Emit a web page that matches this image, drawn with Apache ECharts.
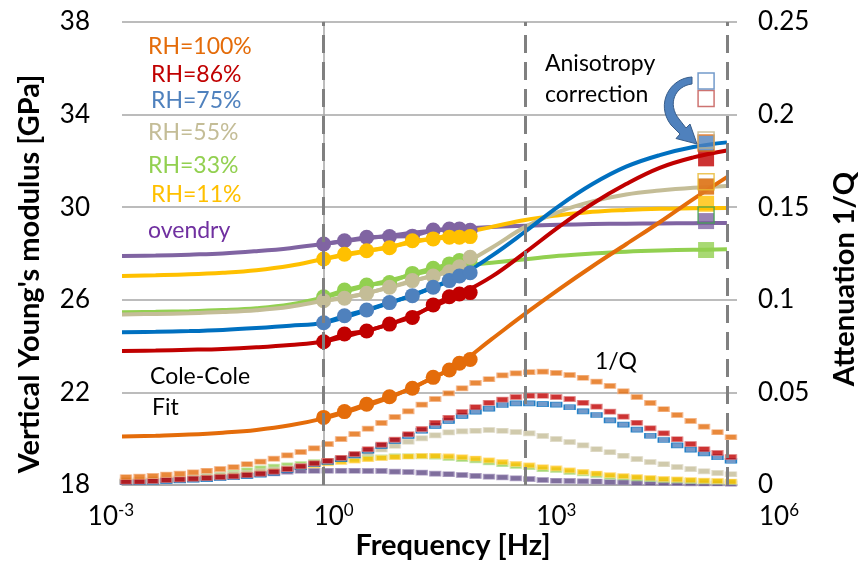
<!DOCTYPE html>
<html>
<head>
<meta charset="utf-8">
<script src="https://cdn.jsdelivr.net/npm/echarts@6/dist/echarts.min.js"></script>
<style>
  html, body { margin: 0; padding: 0; background: #fff; }
  #chart { width: 860px; height: 565px; }
</style>
</head>
<body>
<div id="chart"></div>
<script>
// ---- data (frequencies given as log10 of Hz) ----
const levelNames = ['RH=100%', 'RH=86%', 'RH=75%', 'RH=55%', 'RH=33%', 'RH=11%', 'ovendry'];

// Cole-Cole fit curves, Young's modulus in GPa
const fitLogF = [-3, -2.5, -2, -1.5, -1, -0.5, 0, 0.5, 1, 1.5, 2, 2.5, 3, 3.5, 4, 4.5, 5, 5.5, 6];
const fitRH100 = [20.09, 20.13, 20.18, 20.26, 20.38, 20.58, 20.88, 21.3, 21.8, 22.45, 23.2, 24.3, 25.4, 26.45, 27.45, 28.4, 29.35, 30.35, 31.3];
const fitRH86  = [23.79, 23.81, 23.84, 23.88, 23.95, 24.05, 24.2, 24.55, 24.97, 25.55, 26.2, 27.0, 28.05, 29.15, 30.15, 31.0, 31.7, 32.15, 32.45];
const fitRH75  = [24.6, 24.62, 24.65, 24.7, 24.78, 24.88, 25.01, 25.42, 25.88, 26.4, 27.0, 27.9, 28.95, 30.05, 31.0, 31.75, 32.25, 32.6, 32.8];
const fitRH55  = [25.37, 25.39, 25.42, 25.47, 25.55, 25.7, 25.96, 26.2, 26.55, 26.95, 27.45, 28.25, 29.15, 29.8, 30.25, 30.55, 30.72, 30.84, 30.92];
const fitRH33  = [25.46, 25.48, 25.51, 25.56, 25.64, 25.8, 26.1, 26.5, 26.85, 27.2, 27.45, 27.6, 27.75, 27.9, 28.0, 28.08, 28.13, 28.16, 28.18];
const fitRH11  = [27.03, 27.06, 27.1, 27.17, 27.28, 27.47, 27.76, 28.02, 28.3, 28.58, 28.85, 29.15, 29.45, 29.65, 29.8, 29.88, 29.93, 29.95, 29.97];
const fitDry   = [27.89, 27.91, 27.95, 28.0, 28.1, 28.23, 28.41, 28.6, 28.78, 28.95, 29.07, 29.15, 29.2, 29.24, 29.27, 29.29, 29.3, 29.31, 29.32];

// measured moduli
const measLogF = [0, 0.31, 0.64, 0.98, 1.32, 1.63, 1.87, 2.02, 2.18];
const measRH100 = [20.92, 21.17, 21.49, 21.81, 22.18, 22.65, 22.97, 23.26, 23.42];
const measRH86  = [24.19, 24.52, 24.65, 24.95, 25.24, 25.78, 26.13, 26.25, 26.31];
const measRH75  = [25.01, 25.31, 25.56, 25.88, 26.18, 26.54, 26.83, 27.03, 27.17];
const measRH55  = [25.96, 26.07, 26.28, 26.54, 26.83, 27.03, 27.21, 27.43, 27.84];
const measRH33  = [26.13, 26.42, 26.64, 26.75, 27.14, 27.36, 27.55, 27.7, 27.75];
const measRH11  = [27.76, 27.97, 28.12, 28.25, 28.55, 28.63, 28.7, 28.7, 28.73];
const measDry   = [28.41, 28.55, 28.7, 28.73, 28.75, 29.01, 29.06, 29.06, 29.0];

// attenuation 1/Q from the fits
const qLogF = [-2.94, -2.74, -2.54, -2.34, -2.14, -1.94, -1.74, -1.54, -1.34, -1.14, -0.94, -0.74, -0.54, -0.34, -0.14,
               0.06, 0.26, 0.46, 0.66, 0.86, 1.06, 1.26, 1.46, 1.66, 1.86, 2.06, 2.26, 2.46, 2.66, 2.86,
               3.06, 3.26, 3.46, 3.66, 3.86, 4.06, 4.26, 4.46, 4.66, 4.86, 5.06, 5.26, 5.46, 5.66, 5.86, 6.06];
const qRH100 = [0.0042, 0.0045, 0.0049, 0.0056, 0.0061, 0.0068, 0.0077, 0.0086, 0.0096, 0.0112, 0.0126, 0.0142, 0.016, 0.0178, 0.0198,
                0.0221, 0.0248, 0.0275, 0.0304, 0.0335, 0.0367, 0.0398, 0.0434, 0.0464, 0.0495, 0.0522, 0.0551, 0.0571, 0.0592, 0.0603,
                0.0609, 0.0612, 0.0605, 0.0594, 0.0579, 0.0558, 0.0535, 0.0506, 0.0475, 0.0443, 0.0409, 0.0378, 0.0346, 0.0315, 0.0285, 0.0258];
const qRH86  = [0.0018, 0.0019, 0.0022, 0.0027, 0.003, 0.0034, 0.0038, 0.0043, 0.0047, 0.0054, 0.0061, 0.0072, 0.0086, 0.0101, 0.0117,
                0.0131, 0.0147, 0.0167, 0.0193, 0.0218, 0.0245, 0.0274, 0.0302, 0.0336, 0.0363, 0.0394, 0.042, 0.0444, 0.0461, 0.0475,
                0.0482, 0.0482, 0.0475, 0.0464, 0.0444, 0.0423, 0.0396, 0.0369, 0.0336, 0.0306, 0.0279, 0.0247, 0.0221, 0.0193, 0.0173, 0.0151];
const qRH75  = [0.0015, 0.0016, 0.0018, 0.0022, 0.0025, 0.0029, 0.0032, 0.0038, 0.0042, 0.0049, 0.0056, 0.0066, 0.0081, 0.0096, 0.0112,
                0.0124, 0.014, 0.016, 0.0185, 0.0211, 0.0238, 0.0265, 0.0293, 0.0319, 0.0346, 0.0373, 0.0396, 0.0412, 0.0432, 0.0441,
                0.0441, 0.0437, 0.0434, 0.042, 0.0398, 0.0378, 0.0349, 0.0326, 0.0299, 0.0266, 0.0243, 0.0214, 0.0191, 0.0171, 0.015, 0.0131];
const qRH55  = [0.0026, 0.0028, 0.0031, 0.0034, 0.0038, 0.0042, 0.0047, 0.0053, 0.0059, 0.0066, 0.0074, 0.0083, 0.0093, 0.0104, 0.0116,
                0.0129, 0.0143, 0.0158, 0.0174, 0.0192, 0.0212, 0.0234, 0.0252, 0.0268, 0.0284, 0.029, 0.0293, 0.0297, 0.0293, 0.0286,
                0.0279, 0.0265, 0.0248, 0.0232, 0.0214, 0.0193, 0.0177, 0.0158, 0.014, 0.0124, 0.0112, 0.0097, 0.0086, 0.0074, 0.0065, 0.0058];
const qRH33  = [0.0021, 0.0023, 0.0026, 0.003, 0.0035, 0.004, 0.0047, 0.0056, 0.0066, 0.0079, 0.009, 0.0099, 0.0106, 0.0113, 0.0124,
                0.013, 0.0135, 0.014, 0.0147, 0.0149, 0.0155, 0.0155, 0.0155, 0.0153, 0.0146, 0.014, 0.0133, 0.0122, 0.0112, 0.0103,
                0.0096, 0.0085, 0.0081, 0.007, 0.0063, 0.0054, 0.0045, 0.0041, 0.0036, 0.0032, 0.0027, 0.0025, 0.0022, 0.002, 0.0018, 0.0016];
const qRH11  = [0.0019, 0.0021, 0.0023, 0.0026, 0.003, 0.0034, 0.0039, 0.0045, 0.0052, 0.006, 0.0068, 0.0077, 0.0086, 0.0096, 0.0106,
                0.0117, 0.0124, 0.0132, 0.0139, 0.0145, 0.015, 0.0154, 0.0157, 0.0158, 0.0155, 0.015, 0.0143, 0.0133, 0.0124, 0.0114,
                0.0106, 0.0096, 0.009, 0.0079, 0.0071, 0.0062, 0.0053, 0.0048, 0.0043, 0.0038, 0.0033, 0.003, 0.0027, 0.0024, 0.0022, 0.0019];
const qDry   = [0.0017, 0.0019, 0.0021, 0.0024, 0.0027, 0.003, 0.0035, 0.004, 0.0045, 0.005, 0.0058, 0.0063, 0.0072, 0.0077, 0.0077,
                0.0077, 0.0077, 0.0077, 0.0076, 0.0076, 0.0072, 0.007, 0.0067, 0.0061, 0.0058, 0.0054, 0.0049, 0.0045, 0.0041, 0.0036,
                0.0032, 0.0027, 0.0023, 0.0022, 0.002, 0.0019, 0.0016, 0.0015, 0.0013, 0.0012, 0.0011, 0.001, 0.0009, 0.0008, 0.0008, 0.0007];

// anisotropy correction at the ultrasonic frequency
const anisoLogF = 5.69;
const uncorrectedE = [32.77, 34.7, 35.45, 32.9, 29.66, 31.1, null];
const correctedE   = [30.89, 32.11, 32.76, 30.9, 28.15, 30.15, 29.4];

// axis ticks
const xTickExponents = [-3, 0, 3, 6];
const decadeLines = [0, 3, 6];

// ---- styling ----
const FONT = "Lato, 'Open Sans', sans-serif";
const lineColors   = ['#E46C0A', '#C00000', '#0070C0', '#C4BD97', '#92D050', '#FFC000', '#8064A2'];
const markerColors = ['#E46C0A', '#C00000', '#4F81BD', '#C4BD97', '#92D050', '#FFC000', '#8064A2'];
const qColors      = ['#E46C0A', '#C00000', '#4F81BD', '#C4BD97', '#92D050', '#FFC000', '#5F4A85'];
const qBorders     = ['#F4B183', '#E08080', '#0070C0', '#DDD8C4', '#C5E3A5', '#FFE08A', '#A898C0'];
const hollowColors = ['#E46C0A', '#C0504D', '#4F81BD', '#BFB48A', '#3FA34D', '#E8B830', '#8064A2'];
const labelColors  = ['#E46C0A', '#C00000', '#4F81BD', '#C4BD97', '#92D050', '#FFC000', '#7030A0'];

const fits  = [fitRH100, fitRH86, fitRH75, fitRH55, fitRH33, fitRH11, fitDry];
const meas  = [measRH100, measRH86, measRH75, measRH55, measRH33, measRH11, measDry];
const atten = [qRH100, qRH86, qRH75, qRH55, qRH33, qRH11, qDry];

const pair = (xs, ys) => xs.map((x, i) => [x, ys[i]]);
const lineOrder = [6, 5, 4, 3, 2, 1, 0];
const qOrder = [6, 4, 5, 3, 2, 1, 0];

const series = [];

// dashed decade markers
series.push({
  type: 'line', xAxisIndex: 0, yAxisIndex: 0, data: [], z: 1, silent: true,
  markLine: {
    silent: true, symbol: ['none', 'none'], label: { show: false },
    lineStyle: { type: [18, 9], width: 3, color: '#808080' },
    data: decadeLines.map(v => ({ xAxis: v }))
  }
});

// attenuation curves (right axis)
qOrder.forEach(i => {
  series.push({
    name: levelNames[i] + ' 1/Q', type: 'scatter', xAxisIndex: 0, yAxisIndex: 1, z: 2,
    symbol: 'rect', symbolSize: [11, 5],
    itemStyle: { color: qColors[i], borderColor: qBorders[i], borderWidth: 1 },
    data: pair(qLogF, atten[i])
  });
});

// Cole-Cole fits
lineOrder.forEach(i => {
  series.push({
    name: levelNames[i] + ' fit', type: 'line', xAxisIndex: 0, yAxisIndex: 0, z: 3,
    smooth: 0.4, showSymbol: false,
    lineStyle: { color: lineColors[i], width: 4 },
    data: pair(fitLogF, fits[i])
  });
});

// measured data
lineOrder.forEach(i => {
  series.push({
    name: levelNames[i], type: 'line', xAxisIndex: 0, yAxisIndex: 0, z: 4,
    symbol: 'circle', symbolSize: 15, showAllSymbol: true,
    lineStyle: { color: lineColors[i], width: 4 },
    itemStyle: { color: markerColors[i], borderWidth: 0 },
    data: pair(measLogF, meas[i])
  });
});

// corrected values (filled squares)
[3, 0, 1, 2, 5, 6, 4].forEach(i => {
  series.push({
    type: 'scatter', xAxisIndex: 0, yAxisIndex: 0, z: 5,
    symbol: 'rect', symbolSize: 16,
    itemStyle: { color: markerColors[i], borderWidth: 0 },
    data: [[anisoLogF, correctedE[i]]]
  });
});

// uncorrected values (open squares)
[0, 1, 2, 3, 4, 5].forEach(i => {
  if (uncorrectedE[i] == null) return;
  series.push({
    type: 'scatter', xAxisIndex: 0, yAxisIndex: 0, z: 6,
    symbol: 'rect', symbolSize: 16,
    itemStyle: { color: 'rgba(255,255,255,0)', borderColor: hollowColors[i], borderWidth: 1.5 },
    data: [[anisoLogF, uncorrectedE[i]]]
  });
});

// ---- annotations ----
const txt = (text, x, y, color, size) => ({
  type: 'text', x: x, y: y, silent: true,
  style: {
    text: text, fill: color, font: size + 'px ' + FONT,
    align: 'left', verticalAlign: 'middle', textAlign: 'left', textVerticalAlign: 'middle'
  }
});

const labelPos = [[148, 47], [151, 75], [151, 101], [148, 133], [148, 166], [151, 195], [148, 231]];
const graphics = levelNames.map((n, i) => txt(n, labelPos[i][0], labelPos[i][1], labelColors[i], 23));
graphics.push(txt('Cole-Cole', 150, 377, '#000', 23));
graphics.push(txt('Fit', 152, 408, '#000', 23));
graphics.push(txt('1/Q', 595, 362, '#000', 23));
graphics.push(txt('Anisotropy', 545, 64, '#000', 23));
graphics.push(txt('correction', 545, 95, '#000', 23));

// axis titles
const title = (text, x, y, rot) => ({
  type: 'text', x: x, y: y, rotation: rot, silent: true,
  style: { text: text, fill: '#000', font: 'bold 29px ' + FONT, align: 'center', verticalAlign: 'middle',
           textAlign: 'center', textVerticalAlign: 'middle' }
});
graphics.push(title("Vertical Young's modulus [GPa]", 30, 274, Math.PI / 2));
graphics.push(title('Attenuation 1/Q', 845, 279, Math.PI / 2));
graphics.push(title('Frequency [Hz]', 453, 546, 0));

// curved arrow pointing at the corrected values, outlined from two bezier edges
function bezierPts(p0, p1, p2, p3, n) {
  const pts = [];
  for (let k = 0; k <= n; k++) {
    const t = k / n, u = 1 - t;
    pts.push([
      u * u * u * p0[0] + 3 * u * u * t * p1[0] + 3 * u * t * t * p2[0] + t * t * t * p3[0],
      u * u * u * p0[1] + 3 * u * u * t * p1[1] + 3 * u * t * t * p2[1] + t * t * t * p3[1]
    ]);
  }
  return pts;
}
const arrowPts = []
  .concat(bezierPts([692, 77], [670, 78], [655, 104], [671, 125], 16))
  .concat([[680, 134], [676, 138.5], [697, 144], [690, 124], [686, 128]])
  .concat(bezierPts([679, 119], [667, 104], [675, 86], [692, 84], 16));
graphics.push({
  type: 'polygon', silent: true, z: 10,
  shape: { points: arrowPts },
  style: { fill: '#4F81BD', stroke: '#385D8A', lineWidth: 1 }
});

const axisGray = '#A6A6A6';
const option = {
  animation: false,
  backgroundColor: '#fff',
  textStyle: { fontFamily: FONT },
  grid: [
    { left: 122, right: 123, top: 22, bottom: 80 },
    { left: 111, right: 81, top: 22, bottom: 80 }
  ],
  xAxis: [
    {
      gridIndex: 0, type: 'value', min: -3, max: 6.15,
      axisLine: { show: true, lineStyle: { color: axisGray, width: 1.5 } },
      axisTick: { show: false }, axisLabel: { show: false }, splitLine: { show: false }
    },
    {
      gridIndex: 1, type: 'value', min: xTickExponents[0], max: xTickExponents[xTickExponents.length - 1], interval: 3,
      axisLine: { show: false }, axisTick: { show: false }, splitLine: { show: false },
      axisLabel: {
        margin: 17,
        formatter: v => '{b|10}{s|' + v + '}',
        rich: {
          b: { fontSize: 26, fontFamily: FONT, color: '#000', lineHeight: 30 },
          s: { fontSize: 17, fontFamily: FONT, color: '#000', lineHeight: 18, verticalAlign: 'top' }
        }
      }
    }
  ],
  yAxis: [
    {
      gridIndex: 0, type: 'value', min: 18, max: 38, interval: 4, position: 'left',
      axisLine: { show: true, lineStyle: { color: axisGray, width: 1.5 } },
      axisTick: { show: false },
      axisLabel: { fontSize: 26, color: '#000', margin: 32, fontFamily: FONT },
      splitLine: { show: true, lineStyle: { color: axisGray, width: 1.5 } }
    },
    {
      gridIndex: 0, type: 'value', min: 0, max: 0.25, interval: 0.05, position: 'right',
      axisLine: { show: false }, axisTick: { show: false }, splitLine: { show: false },
      axisLabel: { fontSize: 26, color: '#000', margin: 21, fontFamily: FONT, formatter: v => String(+v.toFixed(2)) }
    },
    { gridIndex: 1, type: 'value', show: false }
  ],
  graphic: graphics,
  series: series
};

const chart = echarts.init(document.getElementById('chart'), null, { renderer: 'canvas' });
chart.setOption(option);
</script>
</body>
</html>
